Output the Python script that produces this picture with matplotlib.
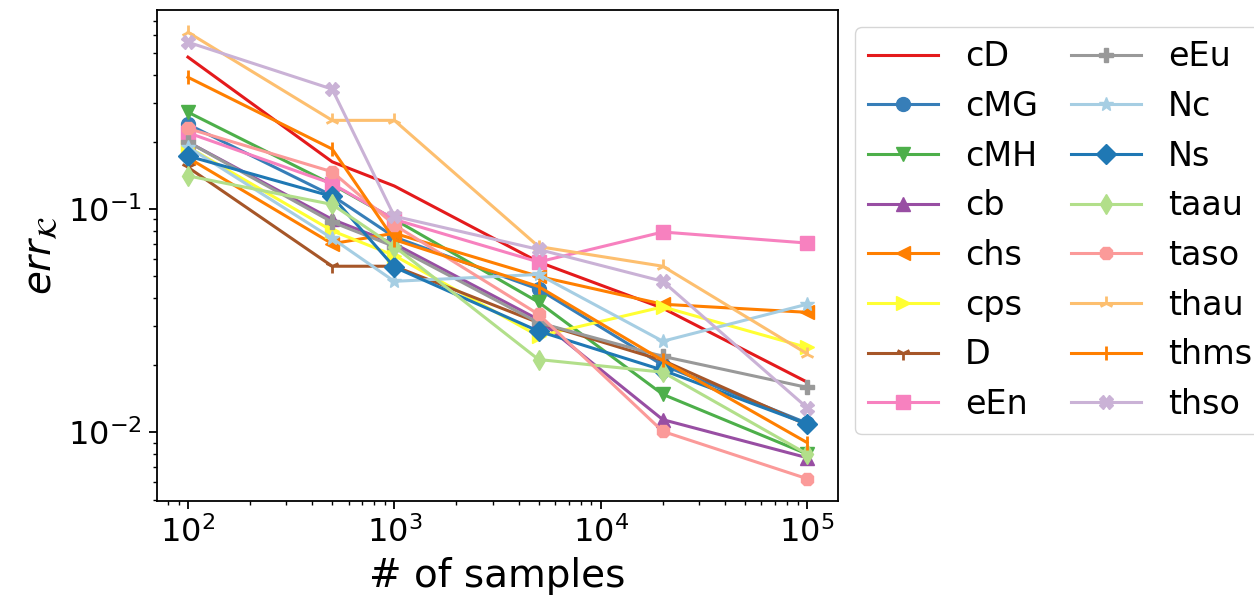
import matplotlib
matplotlib.use("Agg")
import matplotlib.pyplot as plt

samples = [100, 500, 1000, 5000, 20000, 100000]

names = ["cD", "cMG", "cMH", "cb", "chs", "cps", "D", "eEn",
         "eEu", "Nc", "Ns", "taau", "taso", "thau", "thms", "thso"]

cD   = [0.48, 0.163, 0.127, 0.058, 0.036, 0.0168]
cMG  = [0.24, 0.115, 0.075, 0.0438, 0.020, 0.011]
cMH  = [0.272, 0.129, 0.090, 0.0383, 0.0148, 0.0080]
cb   = [0.20, 0.090, 0.070, 0.032, 0.0114, 0.0077]
chs  = [0.17, 0.070, 0.078, 0.050, 0.0375, 0.0345]
cps  = [0.19, 0.080, 0.062, 0.027, 0.0365, 0.024]
D    = [0.154, 0.0555, 0.0555, 0.031, 0.021, 0.0108]
eEn  = [0.22, 0.130, 0.090, 0.058, 0.079, 0.0705]
eEu  = [0.20, 0.0875, 0.068, 0.031, 0.0219, 0.0159]
Nc   = [0.19, 0.074, 0.0475, 0.051, 0.0256, 0.0375]
Ns   = [0.173, 0.114, 0.055, 0.0284, 0.019, 0.0109]
taau = [0.141, 0.105, 0.068, 0.0212, 0.0186, 0.0080]
taso = [0.23, 0.147, 0.085, 0.0338, 0.0101, 0.0062]
thau = [0.62, 0.25, 0.25, 0.068, 0.0555, 0.0225]
thms = [0.39, 0.186, 0.073, 0.045, 0.021, 0.0090]
thso = [0.56, 0.345, 0.093, 0.066, 0.0475, 0.0129]

series = [cD, cMG, cMH, cb, chs, cps, D, eEn, eEu, Nc, Ns, taau, taso, thau, thms, thso]

colors = ["#e41a1c", "#377eb8", "#4daf4a", "#984ea3", "#ff7f00", "#ffff33",
          "#a65628", "#f781bf", "#999999", "#a6cee3", "#1f78b4", "#b2df8a",
          "#fb9a99", "#fdbf6f", "#ff7f00", "#cab2d6"]
markers = [",", "o", "v", "^", "<", ">", "1", "s", "P", "*", "D", "d",
           "8", "2", "|", "X"]

fig = plt.figure(figsize=(12.54, 6.05), dpi=100)
ax = fig.add_axes([157/1254, 1-501/605, (838-157)/1254, (501-10)/605])

for name, vals, c, m in zip(names, series, colors, markers):
    ax.plot(samples, vals, color=c, marker=m, markersize=10, linewidth=2.2,
            markeredgewidth=2 if m in ("1", "2", "|") else 1, label=name)

ax.set_xscale("log")
ax.set_yscale("log")
for s in ax.spines.values():
    s.set_linewidth(1.3)
ax.tick_params(axis="both", which="major", labelsize=23, length=5.5, width=1.3, pad=5.5)
ax.tick_params(axis="both", which="minor", length=3.2, width=1.0)
ax.set_xlabel("# of samples", fontsize=28, labelpad=6)
ax.set_ylabel(r"$err_{\mathcal{K}}$", fontsize=28, labelpad=6)

ax.legend(loc="upper left", bbox_to_anchor=(855/1254, 1-27/605),
          bbox_transform=fig.transFigure, ncol=2, fontsize=24,
          handlelength=2.1, columnspacing=1.0, borderaxespad=0)

fig.savefig("out.png", dpi=100)
